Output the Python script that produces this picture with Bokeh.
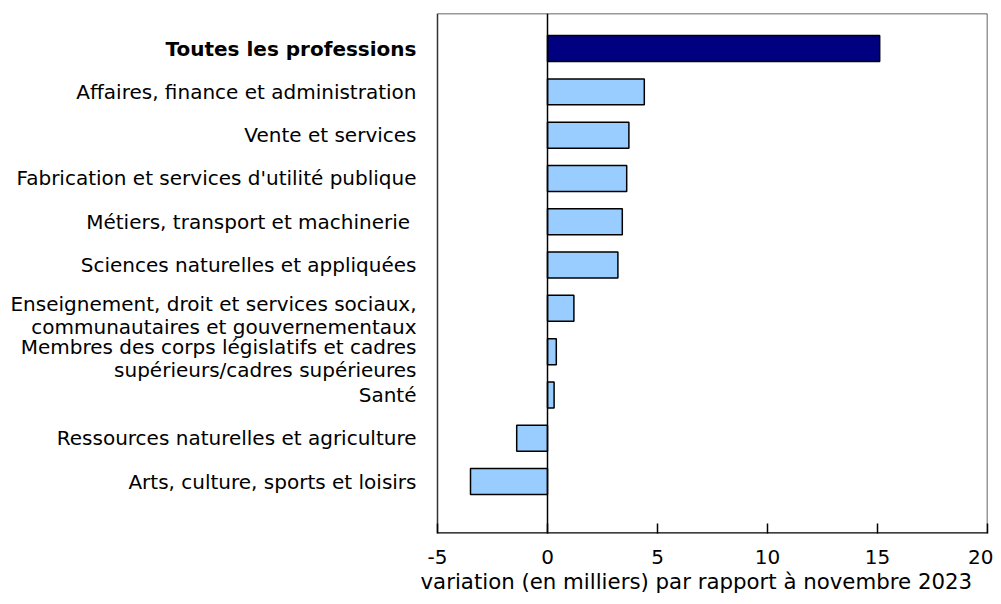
from bokeh.plotting import figure
from bokeh.models import Range1d, FixedTicker, Span, Title, ColumnDataSource
from bokeh.core.properties import value
from bokeh.embed import file_html
from bokeh.resources import INLINE

categories = [
    "Toutes les professions",
    "Affaires, finance et administration",
    "Vente et services",
    "Fabrication et services d'utilité publique",
    "Métiers, transport et machinerie ",
    "Sciences naturelles et appliquées",
    "Enseignement, droit et services sociaux,\ncommunautaires et gouvernementaux",
    "Membres des corps législatifs et cadres\nsupérieurs/cadres supérieures",
    "Santé",
    "Ressources naturelles et agriculture",
    "Arts, culture, sports et loisirs",
]
values = [15.1, 4.4, 3.7, 3.6, 3.4, 3.2, 1.2, 0.4, 0.3, -1.4, -3.5]
colors = ["#000080"] + ["#99CCFF"] * 10
x_ticks = [-5, 0, 5, 10, 15, 20]
x_tick_labels = ["-5", "0", "5", "10", "15", "20"]
x_title = "variation (en milliers) par rapport à novembre 2023"

FONT = "DejaVu Sans"
FS = "20px"

# layout geometry (pixels)
W, H = 993, 596
frame_left_px, frame_right_px = 437, 987
xmin, xmax = x_ticks[0], x_ticks[-1]
px_per_unit = (frame_right_px - frame_left_px) / (xmax - xmin)
x_start = xmin - frame_left_px / px_per_unit   # extend frame to canvas left edge
label_x = xmin - 21 / px_per_unit

n = len(categories)
positions = list(range(n))
y_top, y_bottom = -0.81, n - 1 + 1.2

src = ColumnDataSource(dict(y=positions, v=values, c=colors))

p = figure(width=W, height=H, output_backend="svg", toolbar_location=None,
           x_range=Range1d(x_start, xmax), y_range=Range1d(y_bottom, y_top),
           y_axis_location=None,
           min_border_left=0, min_border_right=W - frame_right_px,
           min_border_top=13, min_border_bottom=H - 533)

p.hbar(y="y", left=0, right="v", height=0.6, fill_color="c", line_color="black",
       line_width=1.5, source=src)

# plot box around the value area
p.multi_line(xs=[[xmin, xmax], [xmin, xmax], [xmin, xmin], [xmax, xmax]],
             ys=[[y_top, y_top], [y_bottom, y_bottom], [y_top, y_bottom], [y_top, y_bottom]],
             line_color=["#333333", "black", "#333333", "#333333"],
             line_width=[1.5, 2.5, 1.5, 1.5])

p.add_layout(Span(location=0, dimension="height", line_color="black", line_width=1.5))

# category labels
single = [i for i in positions[1:] if "\n" not in categories[i]]
multi = [i for i in positions[1:] if "\n" in categories[i]]
p.text(x=[label_x], y=[0], text=[categories[0]], text_align="right",
       text_baseline="middle", text_font=value(FONT), text_font_size=FS,
       text_font_style="bold", text_color="black")
p.text(x=[label_x] * len(single), y=single, text=[categories[i] for i in single],
       text_align="right", text_baseline="middle", text_font=value(FONT),
       text_font_size=FS, text_color="black")
p.text(x=[label_x] * len(multi), y=multi, text=[categories[i] for i in multi],
       text_align="right", text_baseline="middle", text_font=value(FONT),
       text_font_size=FS, text_color="black", text_line_height=0.98, y_offset=7)

p.grid.visible = False
p.outline_line_color = None
p.background_fill_color = "white"
p.border_fill_color = "white"

# x axis
xa = p.xaxis[0]
xa.ticker = FixedTicker(ticks=x_ticks)
xa.major_label_overrides = dict(zip(x_ticks, x_tick_labels))
xa.major_tick_in = 10
xa.major_tick_out = 0
xa.minor_tick_line_color = None
xa.axis_line_color = None
xa.major_tick_line_width = 1.5
xa.major_tick_line_color = "black"
xa.major_label_text_font = FONT
xa.major_label_text_font_size = FS
xa.major_label_text_color = "black"
xa.major_label_standoff = 16

p.add_layout(Title(text=x_title, align="left", offset=420, text_font=FONT,
                   text_font_size="21.3px", text_font_style="normal", text_color="black",
                   text_line_height=0.9, standoff=0), "below")

open("out.html", "w").write(file_html(p, INLINE))
